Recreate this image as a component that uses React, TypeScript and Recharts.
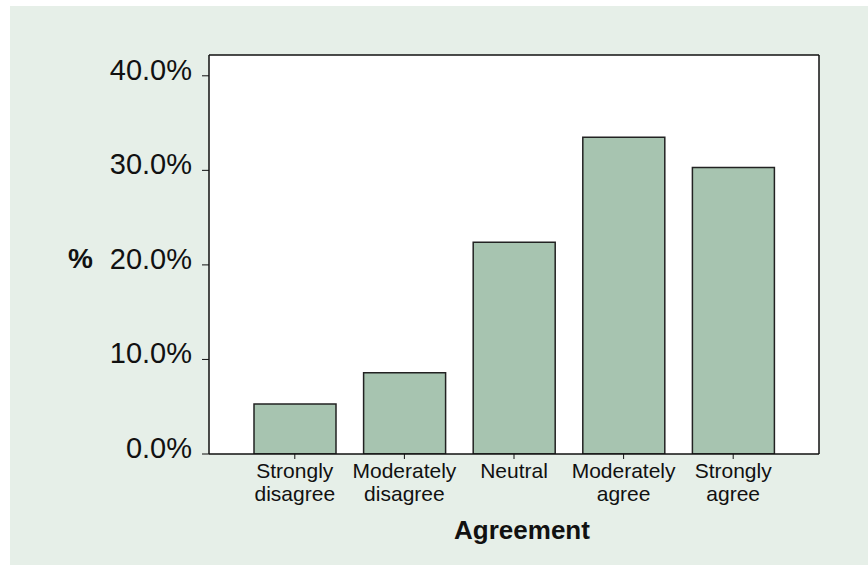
import { Bar, BarChart, CartesianGrid, XAxis, YAxis } from "recharts";

const categories = [
  "Strongly disagree",
  "Moderately disagree",
  "Neutral",
  "Moderately agree",
  "Strongly agree",
];
const tickLines = [
  ["Strongly", "disagree"],
  ["Moderately", "disagree"],
  ["Neutral"],
  ["Moderately", "agree"],
  ["Strongly", "agree"],
];
const percents = [5.3, 8.6, 22.4, 33.5, 30.3];
const yTicks = [0, 10, 20, 30, 40];

const data = categories.map((name, i) => ({ name, pct: percents[i] }));

const font = "'Liberation Sans', Arial, sans-serif";
const ink = "#111";

const XTick = ({ x, y, index }: any) => {
  const lines = tickLines[index] || [];
  return (
    <g>
      {lines.map((line, i) => (
        <text key={line} x={x} y={y} dy={17 + i * 23.4} textAnchor="middle" fontSize={21} fontFamily={font} fill={ink}>
          {line}
        </text>
      ))}
    </g>
  );
};

const YTick = ({ x, y, payload }: any) => (
  <text x={x} y={y} dy={4} textAnchor="end" fontSize={29} fontFamily={font} fill={ink}>
    {`${payload.value.toFixed(1)}%`}
  </text>
);

export default function App() {
  return (
    <div style={{ position: "absolute", left: 10, top: 6, width: 858, height: 559, background: "#e6efe8" }}>
      <BarChart width={858} height={559} data={data} margin={{ top: 48, right: 48, bottom: 0, left: 0 }}>
        <CartesianGrid horizontal={false} vertical={false} fill="#ffffff" />
        <XAxis
          dataKey="name"
          height={111}
          padding={{ left: 31, right: 31 }}
          interval={0}
          tick={<XTick />}
          tickSize={5}
          axisLine={{ stroke: ink, strokeWidth: 1.5 }}
          tickLine={{ stroke: ink }}
          label={{
            value: "Agreement",
            position: "insideBottom",
            offset: 26,
            dx: 8,
            fontSize: 26,
            fontWeight: "bold",
            fontFamily: font,
            fill: ink,
          }}
        />
        <XAxis xAxisId="top" orientation="top" dataKey="name" height={1} tick={false} tickLine={false} axisLine={{ stroke: ink, strokeWidth: 1.5 }} />
        <YAxis
          width={199}
          domain={[0, 42.2]}
          ticks={yTicks}
          allowDataOverflow
          tick={<YTick />}
          tickSize={7}
          tickMargin={10}
          axisLine={{ stroke: ink, strokeWidth: 1.5 }}
          tickLine={{ stroke: ink }}
          label={{
            value: "%",
            position: "insideLeft",
            offset: 58,
            dy: 4,
            fontSize: 28,
            fontWeight: "bold",
            fontFamily: font,
            fill: ink,
          }}
        />
        <YAxis yAxisId="right" orientation="right" width={1} domain={[0, 42.2]} tick={false} tickLine={false} axisLine={{ stroke: ink, strokeWidth: 1.5 }} />
        <Bar dataKey="pct" fill="#a7c4b0" stroke="#222" strokeWidth={1.5} barSize={82} isAnimationActive={false} />
      </BarChart>
    </div>
  );
}
